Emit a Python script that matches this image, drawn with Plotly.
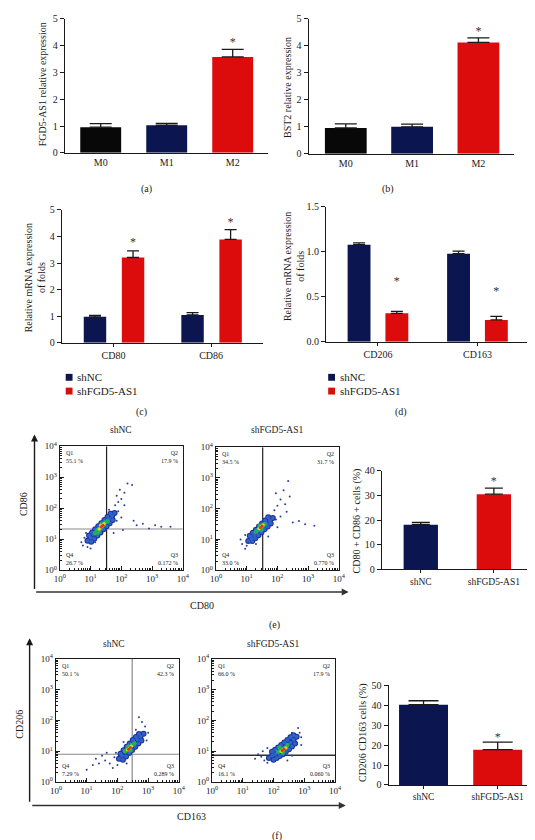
import plotly.graph_objects as go

W, H = 535, 840
SERIF = "Liberation Serif"
INK = "#1a1a1a"
BLACK = "#080808"
NAVY = "#0b1650"
RED = "#dc0c0c"

# ---------------- bar data ----------------
a_labels = ["M0", "M1", "M2"]
a_values = [0.96, 1.03, 3.58]
a_errors = [0.13, 0.07, 0.28]
a_colors = [BLACK, NAVY, RED]
a_star_idx = [2]
a_star_y = [4.1]

b_labels = ["M0", "M1", "M2"]
b_values = [0.96, 1.00, 4.13]
b_errors = [0.15, 0.10, 0.17]
b_star_idx = [2]
b_star_y = [4.51]

c_groups = ["CD80", "CD86"]
c_shnc = [0.98, 1.05]
c_shnc_err = [0.05, 0.09]
c_shfgd = [3.21, 3.89]
c_shfgd_err = [0.25, 0.37]
c_star_y = [3.74, 4.50]

d_groups = ["CD206", "CD163"]
d_shnc = [1.08, 0.98]
d_shnc_err = [0.02, 0.03]
d_shfgd = [0.317, 0.244]
d_shfgd_err = [0.022, 0.04]
d_star_y = [0.667, 0.552]

e_groups = ["shNC", "shFGD5-AS1"]
e_values = [18.1, 30.5]
e_errors = [0.9, 2.5]
e_star_idx = [1]
e_star_y = [35.6]

f_groups = ["shNC", "shFGD5-AS1"]
f_values = [40.3, 17.7]
f_errors = [2.0, 3.8]
f_star_idx = [1]
f_star_y = [23.5]

legend_labels = ["shNC", "shFGD5-AS1"]

# ---------------- flow cytometry data (log10 units) ----------------
flow_tickvals = [1, 10, 100, 1000, 10000]
flow_ticktext = ["10<sup>0</sup>", "10<sup>1</sup>", "10<sup>2</sup>", "10<sup>3</sup>", "10<sup>4</sup>"]

e1_quad = ["55.1 %", "17.9 %", "0.172 %", "26.7 %"]   # Q1, Q2, Q3, Q4
e2_quad = ["34.5 %", "31.7 %", "0.770 %", "33.0 %"]
f1_quad = ["50.1 %", "42.3 %", "0.289 %", "7.29 %"]
f2_quad = ["66.0 %", "17.9 %", "0.060 %", "16.1 %"]

e1_gate = [1.52, 1.33]
e2_gate = [1.52, None]
f1_gate = [2.48, 0.90]
f2_gate = [None, 0.87]

e1_blue = [(0.9, 0.95), (1.0, 1.05), (1.1, 1.15), (1.2, 1.25), (1.3, 1.35), (1.4, 1.45), (1.5, 1.55),
           (1.6, 1.65), (1.7, 1.75), (1.78, 1.85), (0.95, 1.12), (1.05, 1.22), (1.15, 1.32), (1.25, 1.42),
           (1.35, 1.52), (1.45, 1.62), (1.55, 1.72), (1.65, 1.82), (1.02, 0.92), (1.12, 1.02), (1.22, 1.12),
           (1.32, 1.22), (1.42, 1.32), (1.52, 1.42), (1.62, 1.52), (1.72, 1.62)]
e1_green = [(1.15, 1.2), (1.22, 1.3), (1.3, 1.32), (1.35, 1.42), (1.42, 1.45), (1.48, 1.55), (1.55, 1.58),
            (1.25, 1.22), (1.38, 1.5)]
e1_yellow = [(1.28, 1.33), (1.36, 1.4), (1.44, 1.5), (1.33, 1.45)]
e1_red = [(1.35, 1.4), (1.4, 1.45)]
e1_sparse = [(0.75, 0.8), (0.8, 1.05), (0.7, 0.9), (1.0, 0.7), (0.9, 0.75), (1.8, 2.1), (1.9, 2.2), (1.85, 2.4),
             (2.0, 2.3), (1.95, 2.6), (2.1, 2.5), (2.2, 2.8), (2.35, 2.75), (2.1, 2.1), (1.9, 1.9), (2.5, 1.45),
             (2.7, 1.5), (2.9, 1.35), (3.1, 1.45), (3.3, 1.4), (3.6, 1.4), (2.4, 1.6), (2.0, 1.7), (2.05, 1.3),
             (1.75, 1.2), (0.85, 1.2), (1.15, 0.9), (1.85, 1.6), (1.6, 1.95)]

e2_blue = [(1.05, 0.95), (1.15, 1.05), (1.25, 1.14), (1.35, 1.24), (1.45, 1.34), (1.55, 1.43), (1.65, 1.52),
           (1.75, 1.62), (1.85, 1.7), (1.1, 1.12), (1.2, 1.22), (1.3, 1.32), (1.4, 1.42), (1.5, 1.52),
           (1.6, 1.62), (1.7, 1.72), (1.18, 0.95), (1.28, 1.04), (1.38, 1.14), (1.48, 1.24), (1.58, 1.33),
           (1.68, 1.42), (1.78, 1.52)]
e2_green = [(1.3, 1.25), (1.38, 1.32), (1.45, 1.38), (1.52, 1.45), (1.58, 1.5), (1.42, 1.45), (1.48, 1.32)]
e2_yellow = [(1.4, 1.36), (1.47, 1.42), (1.53, 1.47)]
e2_red = [(1.44, 1.39), (1.5, 1.44)]
e2_sparse = [(0.85, 0.85), (0.95, 0.7), (0.8, 1.0), (1.0, 0.8), (1.9, 1.95), (2.0, 2.1), (2.1, 2.3), (1.95, 2.5),
             (2.2, 2.6), (2.35, 2.9), (2.25, 2.15), (2.5, 1.55), (2.7, 1.6), (2.9, 1.5), (3.2, 1.45), (2.1, 1.75),
             (2.3, 1.9), (2.0, 1.4), (1.7, 1.1), (2.4, 2.4), (0.95, 1.15), (1.3, 0.85), (1.95, 1.65)]

f1_blue = [(2.05, 0.75), (2.15, 0.85), (2.25, 0.97), (2.35, 1.07), (2.45, 1.17), (2.55, 1.28), (2.65, 1.38),
           (2.75, 1.48), (2.85, 1.57), (2.1, 0.92), (2.2, 1.03), (2.3, 1.14), (2.4, 1.25), (2.5, 1.36),
           (2.6, 1.46), (2.7, 1.56), (2.18, 0.72), (2.28, 0.83), (2.38, 0.94), (2.48, 1.04), (2.58, 1.14),
           (2.68, 1.25), (2.78, 1.35)]
f1_green = [(2.25, 1.0), (2.32, 1.06), (2.4, 1.12), (2.47, 1.2), (2.35, 1.15), (2.42, 1.02), (2.55, 1.25)]
f1_yellow = [(2.33, 1.05), (2.4, 1.1), (2.45, 1.16)]
f1_red = [(2.36, 1.06), (2.42, 1.12)]
f1_sparse = [(1.2, 0.55), (1.4, 0.6), (1.6, 0.7), (1.75, 0.6), (1.9, 0.8), (1.5, 0.85), (1.85, 0.45), (2.0, 0.55),
             (1.3, 0.75), (2.9, 1.8), (2.8, 1.95), (2.7, 2.1), (3.0, 1.6), (2.95, 1.35), (2.6, 1.7), (2.2, 1.3),
             (1.0, 0.4), (1.65, 0.95), (1.95, 0.95), (2.3, 0.6)]

f2_blue = [(1.85, 0.78), (1.95, 0.85), (2.05, 0.9), (2.15, 0.96), (2.25, 1.02), (2.35, 1.1), (2.45, 1.18),
           (2.55, 1.27), (2.65, 1.37), (2.75, 1.47), (1.95, 0.98), (2.05, 1.05), (2.15, 1.12), (2.25, 1.2),
           (2.35, 1.28), (2.45, 1.36), (2.55, 1.45), (2.65, 1.52), (2.0, 0.72), (2.1, 0.78), (2.2, 0.84),
           (2.3, 0.9), (2.4, 0.98), (2.5, 1.06), (2.6, 1.15), (2.7, 1.25)]
f2_green = [(2.15, 0.98), (2.22, 1.03), (2.3, 1.06), (2.38, 1.12), (2.45, 1.2), (2.3, 0.95), (2.2, 1.12)]
f2_yellow = [(2.25, 1.0), (2.32, 1.05), (2.4, 1.1)]
f2_red = [(2.28, 1.02), (2.34, 1.06)]
f2_sparse = [(1.5, 0.9), (1.6, 0.82), (1.7, 0.7), (1.4, 0.75), (1.8, 0.62), (2.85, 1.6), (2.8, 1.75), (2.9, 1.45),
             (2.6, 1.6), (2.45, 0.7), (2.6, 0.85), (2.9, 1.2), (1.65, 1.0), (1.8, 1.1)]

# ---------------- helpers ----------------
layout = dict(width=W, height=H, margin=dict(l=0, r=0, t=0, b=0), showlegend=False,
              paper_bgcolor="white", plot_bgcolor="white", barmode="overlay",
              annotations=[], shapes=[])
traces = []


def xd(x0, x1):
    return [x0 / W, x1 / W]


def yd(top, bot):
    return [1 - bot / H, 1 - top / H]


def add_axes(n, xbox, ybox, xkw, ykw):
    key = "" if n == 1 else str(n)
    layout["xaxis" + key] = dict(domain=xd(*xbox), anchor="y" + key, **xkw)
    layout["yaxis" + key] = dict(domain=yd(*ybox), anchor="x" + key, **ykw)
    return "x" + key, "y" + key


def tfont(size=10):
    return dict(family=SERIF, size=size, color=INK)


def bar_y(rng, dtick, fmt=None):
    d = dict(range=rng, dtick=dtick, tick0=0, showline=True, linecolor=INK, linewidth=1.2,
             ticks="outside", ticklen=4, tickwidth=1.1, tickcolor=INK, showgrid=False,
             zeroline=False, tickfont=tfont(10), fixedrange=True)
    if fmt:
        d["tickformat"] = fmt
    return d


def bar_x(rng, vals, text, ticks="outside", size=10):
    return dict(range=rng, tickmode="array", tickvals=vals, ticktext=text, showline=True,
                linecolor=INK, linewidth=1.2, ticks=ticks, ticklen=3, tickwidth=1.1, tickcolor=INK,
                showgrid=False, zeroline=False, tickfont=tfont(size), fixedrange=True)


def ann(text, x, y, size=10, angle=0, xanchor="center", yanchor="middle", color=INK):
    layout["annotations"].append(dict(text=text, x=x / W, y=1 - y / H, xref="paper", yref="paper",
                                      showarrow=False, font=dict(family=SERIF, size=size, color=color),
                                      textangle=angle, xanchor=xanchor, yanchor=yanchor))


def bars(xa, ya, xs, ys, errs, colors, width, cap):
    traces.append(go.Bar(x=xs, y=ys, width=width, marker=dict(color=colors, line=dict(width=0)),
                         error_y=dict(type="data", symmetric=False, array=errs, arrayminus=[0] * len(errs),
                                      color=INK, thickness=1.3, width=cap),
                         xaxis=xa, yaxis=ya, hoverinfo="skip"))


def stars(xa, ya, xs, ys):
    traces.append(go.Scatter(x=xs, y=ys, mode="text", text=["*"] * len(xs),
                             textfont=dict(family=SERIF, size=12, color="#333333"),
                             xaxis=xa, yaxis=ya, hoverinfo="skip"))


# ---------------- (a) ----------------
xa, ya = add_axes(1, (52, 260), (4, 140), bar_x([-0.545, 2.53], list(range(3)), a_labels, ticks=""), bar_y([0, 5], 1))
bars(xa, ya, list(range(3)), a_values, a_errors, a_colors, 0.62, 11)
stars(xa, ya, a_star_idx, a_star_y)
ann("FGD5-AS1 relative expression", 30, 70, size=10, angle=-90)
ann("(a)", 136, 177, size=10)

# ---------------- (b) ----------------
xa, ya = add_axes(2, (302, 512), (4, 141), bar_x([-0.56, 2.53], list(range(3)), b_labels, ticks=""), bar_y([0, 5], 1))
bars(xa, ya, list(range(3)), b_values, b_errors, a_colors, 0.63, 11)
stars(xa, ya, b_star_idx, b_star_y)
ann("BST2 relative expression", 281, 74, size=10, angle=-90)
ann("(b)", 383, 177, size=10)

# ---------------- (c) ----------------
c_pos = list(range(len(c_groups)))
xa, ya = add_axes(3, (49, 255), (198, 333), bar_x([-0.53, 1.53], c_pos, c_groups), bar_y([0, 5], 1))
bars(xa, ya, [p - 0.19 for p in c_pos], c_shnc, c_shnc_err, NAVY, 0.23, 6)
bars(xa, ya, [p + 0.2 for p in c_pos], c_shfgd, c_shfgd_err, RED, 0.23, 6)
stars(xa, ya, [p + 0.2 for p in c_pos], c_star_y)
ann("Relative mRNA expression<br>of folds", 21, 267, size=10, angle=-90)

# ---------------- (d) ----------------
d_pos = list(range(len(d_groups)))
xa, ya = add_axes(4, (320, 527), (195, 332), bar_x([-0.52, 1.51], d_pos, d_groups), bar_y([0, 1.5], 0.5, ".1f"))
bars(xa, ya, [p - 0.19 for p in d_pos], d_shnc, d_shnc_err, NAVY, 0.23, 6)
bars(xa, ya, [p + 0.19 for p in d_pos], d_shfgd, d_shfgd_err, RED, 0.23, 6)
stars(xa, ya, [p + 0.19 for p in d_pos], d_star_y)
ann("Relative mRNA expression<br>of folds", 287, 256, size=10, angle=-90)

# legends for (c) and (d)
for lx in (53, 322):
    for i, (lab, col) in enumerate(zip(legend_labels, [NAVY, RED])):
        cy = 368 + 14 * i
        layout["shapes"].append(dict(type="rect", xref="paper", yref="paper", x0=lx / W, x1=(lx + 7) / W,
                                     y0=1 - (cy + 3.5) / H, y1=1 - (cy - 3.5) / H,
                                     fillcolor=col, line=dict(width=0)))
        ann(lab, lx + 10, cy, size=11, xanchor="left")
ann("(c)", 131, 403, size=10)
ann("(d)", 397, 403, size=10)


# ---------------- flow cytometry panels ----------------
def flow_axes(n, xbox, ybox):
    minor_vals = [m * 10 ** k for k in range(4) for m in range(2, 10)]
    common = dict(type="log", range=[0, 4], showline=True, mirror=True, linecolor=INK, linewidth=1.3,
                  ticks="inside", ticklen=4, tickwidth=1, tickcolor=INK, tickmode="array",
                  tickvals=flow_tickvals, ticktext=flow_ticktext, showgrid=False, zeroline=False,
                  tickfont=tfont(9), fixedrange=True,
                  minor=dict(tickmode="array", tickvals=minor_vals, ticks="inside", ticklen=2,
                             tickcolor=INK, tickwidth=0.8))
    return add_axes(n, xbox, ybox, dict(common), dict(common))


def gates(xa, ya, gate, vcolor, hcolor, width=1.2):
    gx, gy = gate
    if gx is not None:
        traces.append(go.Scatter(x=[10 ** gx, 10 ** gx], y=[1, 10000], mode="lines",
                                 line=dict(color=vcolor, width=width), xaxis=xa, yaxis=ya, hoverinfo="skip"))
    if gy is not None:
        traces.append(go.Scatter(x=[1, 10000], y=[10 ** gy, 10 ** gy], mode="lines",
                                 line=dict(color=hcolor, width=width), xaxis=xa, yaxis=ya, hoverinfo="skip"))


def cloud(xa, ya, sparse, blue, green, yellow, red):
    layers = [(sparse, "#2a3f9a", 2), (blue, "#1d2f9c", 6), (blue, "#2f62c8", 4),
              (green, "#22b05a", 4.5), (yellow, "#d9d630", 3.5), (red, "#e2321e", 3)]
    for pts, col, size in layers:
        traces.append(go.Scatter(x=[10 ** p[0] for p in pts], y=[10 ** p[1] for p in pts], mode="markers",
                                 marker=dict(color=col, size=size, line=dict(width=0)),
                                 xaxis=xa, yaxis=ya, hoverinfo="skip"))


def quads(xa, q, size=6):
    dom = xa + " domain"
    ydom = "y" + xa[1:] + " domain"
    spec = [("Q1", q[0], 0.03, 0.985, "left", "top"), ("Q2", q[1], 0.975, 0.985, "right", "top"),
            ("Q3", q[2], 0.975, 0.02, "right", "bottom"), ("Q4", q[3], 0.03, 0.02, "left", "bottom")]
    for name, val, x, y, xan, yan in spec:
        layout["annotations"].append(dict(text=name + "<br>" + val, x=x, y=y, xref=dom, yref=ydom,
                                          showarrow=False, align="left" if xan == "left" else "right",
                                          font=dict(family=SERIF, size=size, color=INK),
                                          xanchor=xan, yanchor=yan))


def arrow(hx, hy, tx, ty, color=INK):
    layout["annotations"].append(dict(text="", x=hx / W, y=1 - hy / H, xref="paper", yref="paper",
                                      ax=tx - hx, ay=ty - hy, axref="pixel", ayref="pixel",
                                      showarrow=True, arrowhead=2, arrowsize=1, arrowwidth=1.4,
                                      arrowcolor=color, standoff=0, startstandoff=0))


# (e) flow
xa, ya = flow_axes(5, (47, 173), (438, 564))
gates(xa, ya, e1_gate, "#202020", "#8a8a8a")
cloud(xa, ya, e1_sparse, e1_blue, e1_green, e1_yellow, e1_red)
quads(xa, e1_quad)
ann("shNC", 110, 422, size=9.5)

xa, ya = flow_axes(6, (207, 333), (439, 564))
gates(xa, ya, e2_gate, "#202020", "#8a8a8a")
cloud(xa, ya, e2_sparse, e2_blue, e2_green, e2_yellow, e2_red)
quads(xa, e2_quad)
ann("shFGD5-AS1", 270, 422, size=9.5)

arrow(21, 426, 21, 582)
arrow(343, 586, 29, 586, color="#333")
ann("CD86", 10, 497, size=10, angle=-90)
ann("CD80", 193, 600, size=10)

# (e) bar
e_pos = list(range(len(e_groups)))
xa, ya = add_axes(7, (377, 533), (463, 563), bar_x([-0.533, 1.55], e_pos, e_groups, size=9.5), bar_y([0, 40], 10))
bars(xa, ya, e_pos, e_values, e_errors, [NAVY, RED], 0.47, 9)
stars(xa, ya, e_star_idx, e_star_y)
ann("CD80 + CD86 + cells (%)", 352, 514, size=10, angle=-90)
ann("(e)", 267, 620, size=10)

# (f) flow
xa, ya = flow_axes(8, (43, 169), (654, 779))
gates(xa, ya, f1_gate, "#8a8a8a", "#8a8a8a")
cloud(xa, ya, f1_sparse, f1_blue, f1_green, f1_yellow, f1_red)
quads(xa, f1_quad)
ann("shNC", 102, 639, size=9.5)

xa, ya = flow_axes(9, (203, 329), (654, 779))
gates(xa, ya, f2_gate, "#303030", "#303030", width=1.6)
cloud(xa, ya, f2_sparse, f2_blue, f2_green, f2_yellow, f2_red)
quads(xa, f2_quad)
ann("shFGD5-AS1", 266, 639, size=9.5)

arrow(16, 633, 16, 798)
arrow(340, 803, 25, 803, color="#333")
ann("CD206", 6, 720, size=10, angle=-90)
ann("CD163", 182, 814, size=10)

# (f) bar
f_pos = list(range(len(f_groups)))
xa, ya = add_axes(10, (384, 533), (681, 782), bar_x([-0.47, 1.49], f_pos, f_groups, size=9.5), bar_y([0, 50], 10))
bars(xa, ya, f_pos, f_values, f_errors, [NAVY, RED], 0.66, 15)
stars(xa, ya, f_star_idx, f_star_y)
ann("CD206 CD163 cells (%)", 357, 729, size=10, angle=-90)
ann("(f)", 270, 834, size=10)

fig = go.Figure(data=traces, layout=layout)
fig.write_html("out.html")
